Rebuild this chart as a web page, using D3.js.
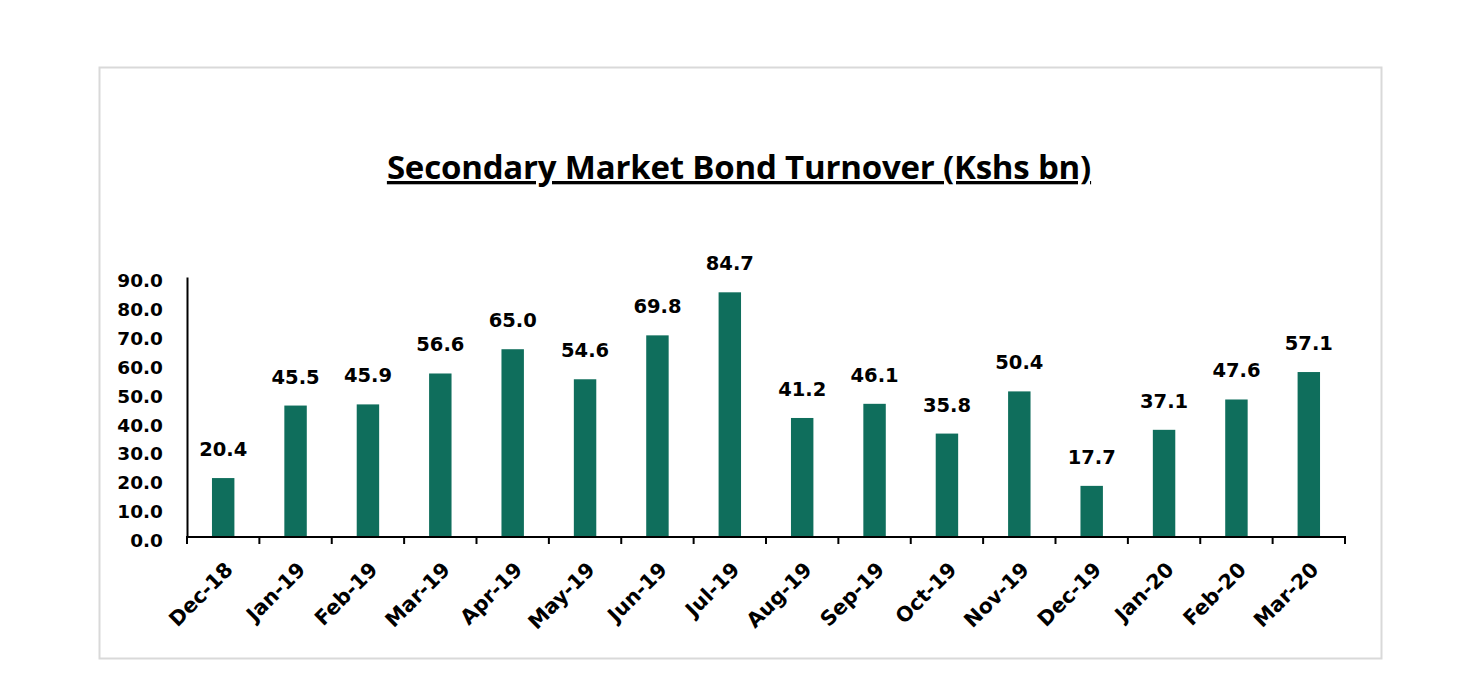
<!DOCTYPE html>
<html><head><meta charset="utf-8">
<script src="https://cdn.jsdelivr.net/npm/d3@7"></script>
<style>body{margin:0;background:#fff}svg{display:block}text{font-family:"DejaVu Sans",sans-serif;font-weight:bold;fill:#000}</style>
</head><body>
<script>
const categories = ["Dec-18","Jan-19","Feb-19","Mar-19","Apr-19","May-19","Jun-19","Jul-19","Aug-19","Sep-19","Oct-19","Nov-19","Dec-19","Jan-20","Feb-20","Mar-20"];
const values = [20.4,45.5,45.9,56.6,65.0,54.6,69.8,84.7,41.2,46.1,35.8,50.4,17.7,37.1,47.6,57.1];
const yTicks = [0,10,20,30,40,50,60,70,80,90];
const title = "Secondary Market Bond Turnover (Kshs bn)";

const W = 1482, H = 678;
const svg = d3.select("body").append("svg").attr("width", W).attr("height", H);
svg.append("rect").attr("x",99.5).attr("y",67.5).attr("width",1282).attr("height",591)
  .attr("fill","#fff").attr("stroke","#d9d9d9").attr("stroke-width",2);

svg.append("text").attr("x",739).attr("y",179).attr("text-anchor","middle")
  .style("font-family","'Open Sans',sans-serif").style("font-size","33px")
  .style("text-decoration","underline").style("letter-spacing","-0.2px").text(title);

const x = d3.scaleBand().domain(categories).range([187,1345]).paddingInner(0.69).paddingOuter(0.345);
const y = d3.scaleLinear().domain([0,90]).range([537,277]);

// bars
svg.selectAll("rect.bar").data(values).enter().append("rect").attr("class","bar")
  .attr("x",(d,i)=>x(categories[i])).attr("width",x.bandwidth())
  .attr("y",d=>y(d)).attr("height",d=>y(0)-y(d)).attr("fill","#0f6e5c");

// labels
svg.selectAll("text.val").data(values).enter().append("text").attr("class","val")
  .attr("x",(d,i)=>x(categories[i])+x.bandwidth()/2).attr("y",d=>y(d)-22)
  .attr("text-anchor","middle").style("font-size","19.5px").text(d=>d.toFixed(1));

// y axis
const yAxis = svg.append("g").attr("transform","translate(187,0)")
  .call(d3.axisLeft(y).tickValues(yTicks).tickFormat(d3.format(".1f")).tickSize(0).tickPadding(24));
yAxis.select(".domain").attr("stroke","#000").attr("stroke-width",2);
yAxis.selectAll("text").style("font-size","18.5px").style("font-family","'DejaVu Sans',sans-serif")
  .style("font-weight","bold").attr("dy","0.52em");

// x axis
const step = x.step();
const xAxis = svg.append("g").attr("transform","translate(0,537)");
xAxis.append("line").attr("x1",186).attr("x2",1346).attr("stroke","#000").attr("stroke-width",2);
xAxis.selectAll("line.tick").data(d3.range(categories.length+1)).enter().append("line")
  .attr("x1",i=>187+i*step).attr("x2",i=>187+i*step).attr("y1",0).attr("y2",7)
  .attr("stroke","#000").attr("stroke-width",2);
xAxis.selectAll("text.xl").data(categories).enter().append("text").attr("class","xl")
  .attr("transform",d=>`translate(${x(d)+x.bandwidth()/2+11},${34}) rotate(-45)`)
  .attr("text-anchor","end").style("font-size","20.5px").text(d=>d);
</script>
</body></html>
